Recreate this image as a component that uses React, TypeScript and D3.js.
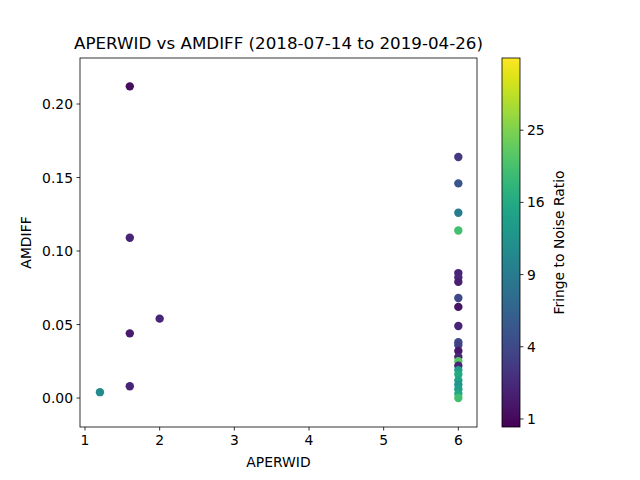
import * as d3 from "d3";

const xs = [1.6, 1.6, 1.6, 1.6, 2.0, 1.2,
  6, 6, 6, 6, 6, 6, 6, 6, 6, 6, 6, 6, 6, 6, 6, 6, 6, 6, 6, 6, 6, 6, 6];
const ys = [0.212, 0.109, 0.044, 0.008, 0.054, 0.004,
  0.164, 0.146, 0.126, 0.114, 0.085, 0.082, 0.079, 0.068, 0.062, 0.049, 0.038, 0.036,
  0.032, 0.028, 0.025, 0.022, 0.019, 0.016, 0.012, 0.009, 0.006, 0.003, 0.0];
const snr = [1.1, 2, 1.6, 2, 2, 11,
  3, 5, 9, 20, 2, 2.2, 1.8, 4, 1.3, 2, 4, 3.5,
  1.5, 2, 22, 2, 14, 16, 15, 13, 14, 16, 20];
const xTicks = [1, 2, 3, 4, 5, 6];
const yTicks = [0, 0.05, 0.1, 0.15, 0.2];
const cTicks = [1, 4, 9, 16, 25];

const App = () => {
  const m = { left: 80, right: 477, top: 58, bottom: 427 };
  const x = d3.scaleLinear().domain([0.933, 6.25]).range([m.left, m.right]);
  const y = d3.scaleLinear().domain([-0.0197, 0.2313]).range([m.bottom, m.top]);
  const cMin = 0.79, cMax = 36;
  const c = d3.scaleSqrt().domain([cMin, cMax]).range([0, 1]);
  const cy = d3.scaleSqrt().domain([cMin, cMax]).range([m.bottom, m.top]);
  const stops = d3.range(0, 1.001, 0.05);
  const order = d3.range(xs.length);
  return (
    <svg width={640} height={480} style={{ position: "absolute", left: 0, top: 0 }}
      fontFamily="DejaVu Sans" fontSize={13.9}>
      <defs>
        <linearGradient id="vir" x1="0" y1="1" x2="0" y2="0">
          {stops.map((s) => <stop key={s} offset={s} stopColor={d3.interpolateViridis(s)} />)}
        </linearGradient>
      </defs>
      <rect width={640} height={480} fill="white" />
      {order.map((i) => (
        <circle key={i} cx={x(xs[i])} cy={y(ys[i])} r={4.2} fill={d3.interpolateViridis(c(snr[i]))} />
      ))}
      <rect x={m.left} y={m.top} width={m.right - m.left} height={m.bottom - m.top} fill="none" stroke="black" strokeWidth={0.8} />
      {xTicks.map((t) => (
        <g key={t}>
          <line x1={x(t)} x2={x(t)} y1={m.bottom} y2={m.bottom + 3.5} stroke="black" strokeWidth={0.8} />
          <text x={x(t)} y={m.bottom + 18} textAnchor="middle">{t}</text>
        </g>
      ))}
      {yTicks.map((t) => (
        <g key={t}>
          <line x1={m.left - 3.5} x2={m.left} y1={y(t)} y2={y(t)} stroke="black" strokeWidth={0.8} />
          <text x={m.left - 7} y={y(t) + 5} textAnchor="end">{t.toFixed(2)}</text>
        </g>
      ))}
      <text x={(m.left + m.right) / 2} y={467} textAnchor="middle">APERWID</text>
      <text transform={`translate(31,${(m.top + m.bottom) / 2}) rotate(-90)`} textAnchor="middle">AMDIFF</text>
      <text x={(m.left + m.right) / 2} y={49} textAnchor="middle" fontSize={16.7}>
        APERWID vs AMDIFF (2018-07-14 to 2019-04-26)
      </text>
      <rect x={502} y={m.top} width={18} height={m.bottom - m.top} fill="url(#vir)" stroke="black" strokeWidth={0.8} />
      {cTicks.map((t) => (
        <g key={t}>
          <line x1={520} x2={523.5} y1={cy(t)} y2={cy(t)} stroke="black" strokeWidth={0.8} />
          <text x={527} y={cy(t) + 5}>{t}</text>
        </g>
      ))}
      <text transform={`translate(564,${(m.top + m.bottom) / 2}) rotate(-90)`} textAnchor="middle">Fringe to Noise Ratio</text>
    </svg>
  );
};

export default App;
